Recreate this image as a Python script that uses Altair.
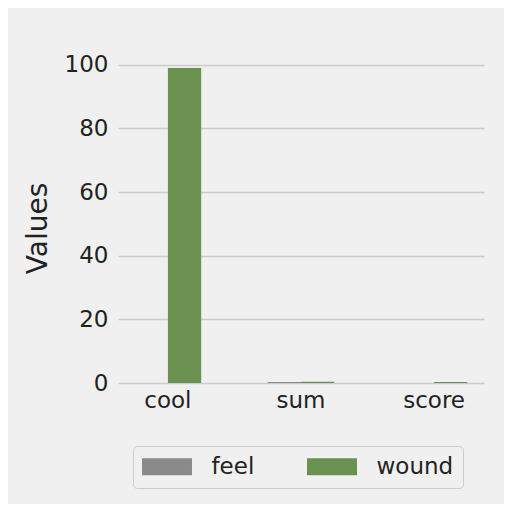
import altair as alt
import pandas as pd

categories = ["cool", "sum", "score"]
series = ["feel", "wound"]
feel_values = [0.0, 0.3, 0.0]
wound_values = [99.0, 0.4, 0.3]
colors = ["#8a8a8a", "#6b9150"]
y_ticks = [0, 20, 40, 60, 80, 100]

rows = []
for i, c in enumerate(categories):
    rows.append({"category": c, "series": "feel", "value": feel_values[i]})
    rows.append({"category": c, "series": "wound", "value": wound_values[i]})
df = pd.DataFrame(rows)

FONT = "DejaVu Sans"
W, H = 366, 331

chart = alt.Chart(df).mark_bar().encode(
    x=alt.X("category:N", sort=categories,
            scale=alt.Scale(paddingInner=0.5, paddingOuter=0.125),
            axis=alt.Axis(title=None, labelAngle=0, labelFontSize=23, labelFont=FONT,
                          labelColor="#222222", ticks=False, domain=False, labelPadding=6,
                          grid=False)),
    xOffset=alt.XOffset("series:N", sort=series),
    y=alt.Y("value:Q", scale=alt.Scale(domain=[0, 104], nice=False),
            axis=alt.Axis(title="Values", values=y_ticks, labelFontSize=23, labelFont=FONT,
                          labelColor="#222222", ticks=False, domain=False, labelPadding=10,
                          gridColor="#cbcbcb", gridWidth=1.3,
                          titleFontSize=28, titleFont=FONT, titleFontWeight="normal",
                          titleColor="#222222", titleAngle=270, titleX=-80, titleY=176,
                          titleAlign="center", titleBaseline="middle")),
    color=alt.Color("series:N", sort=series,
                    scale=alt.Scale(domain=series, range=colors),
                    legend=alt.Legend(title=None, orient="none", legendX=15, legendY=394,
                                      direction="horizontal", columns=2,
                                      symbolType="M-2.94,-1L2.94,-1L2.94,1L-2.94,1Z",
                                      symbolSize=289, symbolStrokeWidth=0,
                                      symbolOffset=13.5,
                                      labelFontSize=23, labelFont=FONT, labelColor="#222222",
                                      labelExpr="datum.label == 'wound' ? 'wound ' : datum.label",
                                      labelOffset=33, columnPadding=52, padding=9,
                                      strokeColor="#cccccc", fillColor="#f0f0f0",
                                      cornerRadius=4)),
).properties(
    width=W, height=H,
    background="#f0f0f0",
    padding={"left": 110, "top": 44, "right": 20, "bottom": 121},
    autosize=alt.AutoSizeParams(type="none"),
).configure_view(stroke=None, fill="#f0f0f0")

chart.save("out.html", embed_options={"renderer": "svg", "actions": False})
